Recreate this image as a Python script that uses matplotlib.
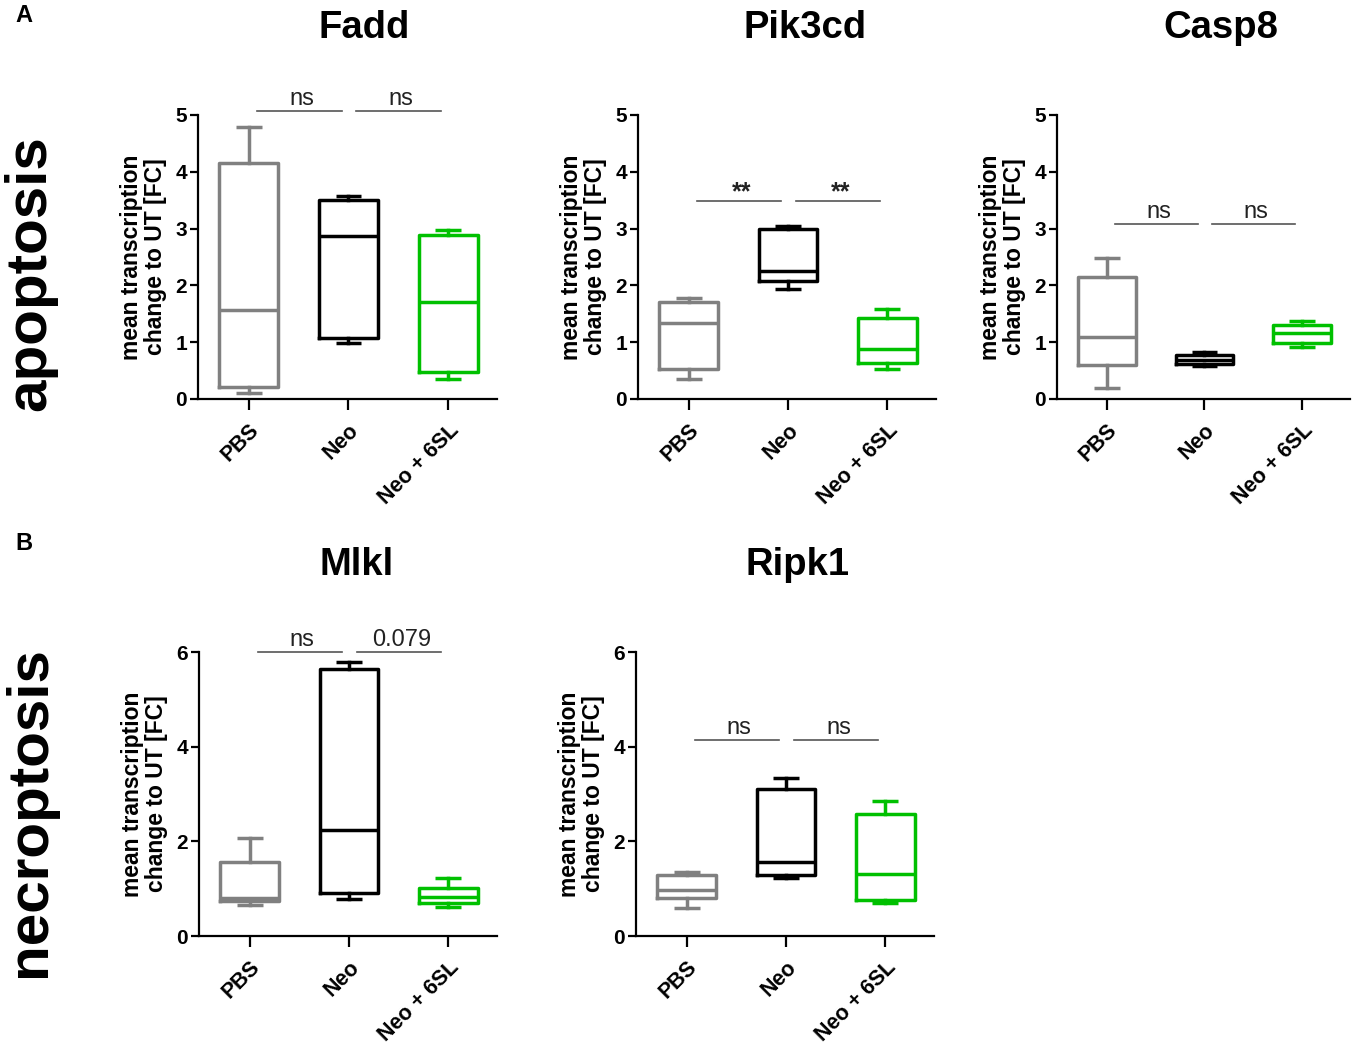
import matplotlib.pyplot as plt

plt.rcParams['font.family'] = ['Liberation Sans', 'DejaVu Sans']
plt.rcParams['font.weight'] = 'bold'

groups = ['PBS', 'Neo', 'Neo + 6SL']
colors = ['#808080', '#000000', '#00c000']

# five-number summaries per group: min, q1, median, q3, max
fadd_lo = [0.10, 0.98, 0.35]
fadd_q1 = [0.22, 1.07, 0.47]
fadd_med = [1.57, 2.87, 1.70]
fadd_q3 = [4.15, 3.50, 2.88]
fadd_hi = [4.78, 3.57, 2.97]

pik_lo = [0.35, 1.93, 0.52]
pik_q1 = [0.52, 2.07, 0.63]
pik_med = [1.33, 2.25, 0.88]
pik_q3 = [1.70, 3.00, 1.42]
pik_hi = [1.78, 3.05, 1.58]

casp_lo = [0.20, 0.58, 0.92]
casp_q1 = [0.60, 0.62, 0.98]
casp_med = [1.10, 0.68, 1.17]
casp_q3 = [2.15, 0.78, 1.30]
casp_hi = [2.48, 0.82, 1.37]

mlkl_lo = [0.65, 0.78, 0.62]
mlkl_q1 = [0.75, 0.90, 0.70]
mlkl_med = [0.80, 2.25, 0.82]
mlkl_q3 = [1.57, 5.65, 1.02]
mlkl_hi = [2.07, 5.78, 1.22]

ripk_lo = [0.60, 1.23, 0.70]
ripk_q1 = [0.81, 1.28, 0.77]
ripk_med = [0.98, 1.57, 1.32]
ripk_q3 = [1.29, 3.11, 2.57]
ripk_hi = [1.36, 3.34, 2.85]

# significance annotations: labels and bar height
fadd_sig = (['ns', 'ns'], 5.07)
pik_sig = (['**', '**'], 3.49)
casp_sig = (['ns', 'ns'], 3.08)
mlkl_sig = (['ns', '0.079'], 6.0)
ripk_sig = (['ns', 'ns'], 4.15)

W, H = 1358, 1049
fig = plt.figure(figsize=(W / 100, H / 100), dpi=100)


def px_axes(x0, x1, y0, y1):
    return fig.add_axes([x0 / W, 1 - y1 / H, (x1 - x0) / W, (y1 - y0) / H])


def panel(ax, lo, q1, med, q3, hi, sig, ymax, yticks):
    stats = []
    for i in range(3):
        stats.append(dict(whislo=lo[i], q1=q1[i], med=med[i], q3=q3[i], whishi=hi[i], fliers=[]))
    bp = ax.bxp(stats, positions=[0, 1, 2], widths=0.59, capwidths=0.26,
                showfliers=False, patch_artist=False)
    for i, c in enumerate(colors):
        bp['boxes'][i].set(color=c, linewidth=2.5)
        bp['medians'][i].set(color=c, linewidth=2.5)
        for k in (2 * i, 2 * i + 1):
            bp['whiskers'][k].set(color=c, linewidth=2.5)
            bp['caps'][k].set(color=c, linewidth=2.5, solid_capstyle='butt')
    ax.set_xlim(-0.51, 2.49)
    ax.set_ylim(0, ymax)
    ax.set_yticks(yticks)
    ax.set_xticks([0, 1, 2])
    ax.set_xticklabels(groups, rotation=45, ha='right', rotation_mode='anchor')
    for s in ('top', 'right'):
        ax.spines[s].set_visible(False)
    for s in ('left', 'bottom'):
        ax.spines[s].set_linewidth(1.6)
    ax.tick_params(axis='y', length=6, width=1.6, pad=2, labelsize=15)
    ax.tick_params(axis='x', length=8, width=1.6, pad=7, labelsize=15.5)
    ax.set_ylabel('mean transcription\nchange to UT [FC]', fontsize=16.5,
                  fontweight='bold', linespacing=1.05)
    ax.yaxis.set_label_coords(-0.105, 0.5)
    labels, yb = sig
    for j, lab in enumerate(labels):
        ax.plot([j + 0.08, j + 0.93], [yb, yb], color='#555555', linewidth=1.2,
                clip_on=False)
        if lab == '**':
            ax.text(j + 0.53, yb - ymax * 0.014, lab, ha='center', va='bottom',
                    fontsize=18, fontweight='bold', color='#222222', clip_on=False)
        else:
            ax.text(j + 0.53, yb + ymax * 0.002, lab, ha='center', va='bottom',
                    fontsize=17, fontweight='normal', color='#222222', clip_on=False)


ax1 = px_axes(198, 497, 115, 399)
panel(ax1, fadd_lo, fadd_q1, fadd_med, fadd_q3, fadd_hi, fadd_sig, 5, [0, 1, 2, 3, 4, 5])
ax2 = px_axes(638, 936, 115, 399)
panel(ax2, pik_lo, pik_q1, pik_med, pik_q3, pik_hi, pik_sig, 5, [0, 1, 2, 3, 4, 5])
ax3 = px_axes(1057, 1350, 115, 399)
panel(ax3, casp_lo, casp_q1, casp_med, casp_q3, casp_hi, casp_sig, 5, [0, 1, 2, 3, 4, 5])
ax4 = px_axes(199, 497, 652, 936)
panel(ax4, mlkl_lo, mlkl_q1, mlkl_med, mlkl_q3, mlkl_hi, mlkl_sig, 6, [0, 2, 4, 6])
ax5 = px_axes(636, 934, 652, 936)
panel(ax5, ripk_lo, ripk_q1, ripk_med, ripk_q3, ripk_hi, ripk_sig, 6, [0, 2, 4, 6])

# panel titles
titles = [('Fadd', 364, 28), ('Pik3cd', 805, 28), ('Casp8', 1221, 28),
          ('Mlkl', 357, 565), ('Ripk1', 798, 565)]
for t, x, y in titles:
    fig.text(x / W, 1 - y / H, t, ha='center', va='center', fontsize=27.5, fontweight='bold')

fig.text(24 / W, 1 - 15 / H, 'A', ha='center', va='center', fontsize=17, fontweight='bold')
fig.text(24 / W, 1 - 544 / H, 'B', ha='center', va='center', fontsize=17, fontweight='bold')
fig.text(30 / W, 1 - 273 / H, 'apoptosis', rotation=90, ha='center', va='center',
         fontsize=42, fontweight='bold')
fig.text(30 / W, 1 - 812 / H, 'necroptosis', rotation=90, ha='center', va='center',
         fontsize=42, fontweight='bold')

fig.savefig('out.png', dpi=100)
